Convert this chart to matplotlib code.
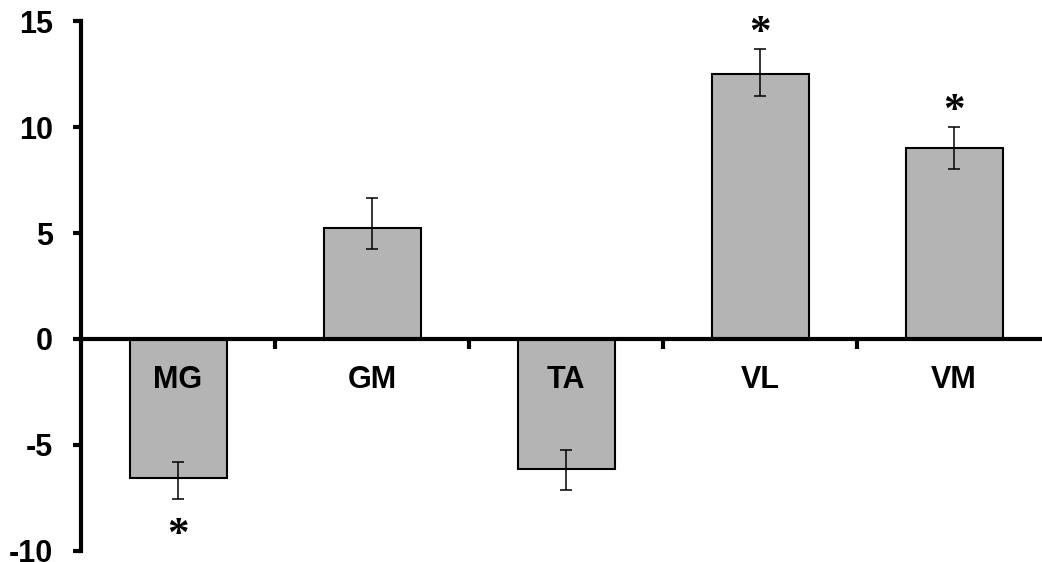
import matplotlib
matplotlib.use("Agg")
import matplotlib.pyplot as plt
import numpy as np

categories = ["MG", "GM", "TA", "VL", "VM"]
means = [-6.56, 5.26, -6.13, 12.49, 9.02]
err_low_end = [-7.58, 4.26, -7.14, 11.48, 8.01]
err_high_end = [-5.80, 6.65, -5.24, 13.70, 10.00]
significant = [True, False, False, True, True]
yticks = [-10, -5, 0, 5, 10, 15]

plt.rcParams["font.family"] = ["Liberation Sans", "DejaVu Sans"]

W, H = 1042, 562
fig = plt.figure(figsize=(W / 100, H / 100), dpi=100)
ax = fig.add_axes([81 / W, (H - 550.7) / H, (W - 81) / W, (550.7 - 21.3) / H])

x = np.arange(len(categories))
m = np.array(means)
lo = m - np.array(err_low_end)
hi = np.array(err_high_end) - m

ax.bar(x, m, width=0.5, color="#b4b4b4", edgecolor="black", linewidth=1.5, zorder=2)
ax.errorbar(x, m, yerr=[lo, hi], fmt="none", ecolor="black", elinewidth=1.1,
            capsize=4.6, capthick=1.1, zorder=3)

ax.set_xlim(-0.5, -0.5 + (W - 81) / 194.0)
ax.set_ylim(-10, 15)

for s in ["top", "right"]:
    ax.spines[s].set_visible(False)
ax.spines["left"].set_linewidth(3)
ax.spines["bottom"].set_linewidth(3)
ax.spines["bottom"].set_position(("data", 0))
ax.spines["bottom"].set_zorder(4)

ax.set_yticks(yticks)
ax.set_yticklabels([str(t) for t in yticks])
ax.tick_params(axis="y", direction="out", length=6, width=3, pad=14,
               labelsize=22)
for lab in ax.get_yticklabels():
    lab.set_fontweight("bold")

ax.set_xticks(x[:-1] + 0.5)
ax.set_xticklabels([])
ax.tick_params(axis="x", direction="out", length=7, width=3)

for i, c in enumerate(categories):
    ax.text(i, -2.32, c, ha="center", va="baseline", fontsize=22,
            fontweight="bold", zorder=5)

off = 1.22
shift = 0.5
for i, sig in enumerate(significant):
    if not sig:
        continue
    if means[i] < 0:
        yy = err_low_end[i] - off
    else:
        yy = err_high_end[i] + off
    ax.text(i, yy - shift, "*", ha="center", va="center", fontsize=31,
            fontweight="bold",
            family=["Liberation Serif", "DejaVu Serif"], zorder=5)

fig.savefig("out.png", dpi=100)
